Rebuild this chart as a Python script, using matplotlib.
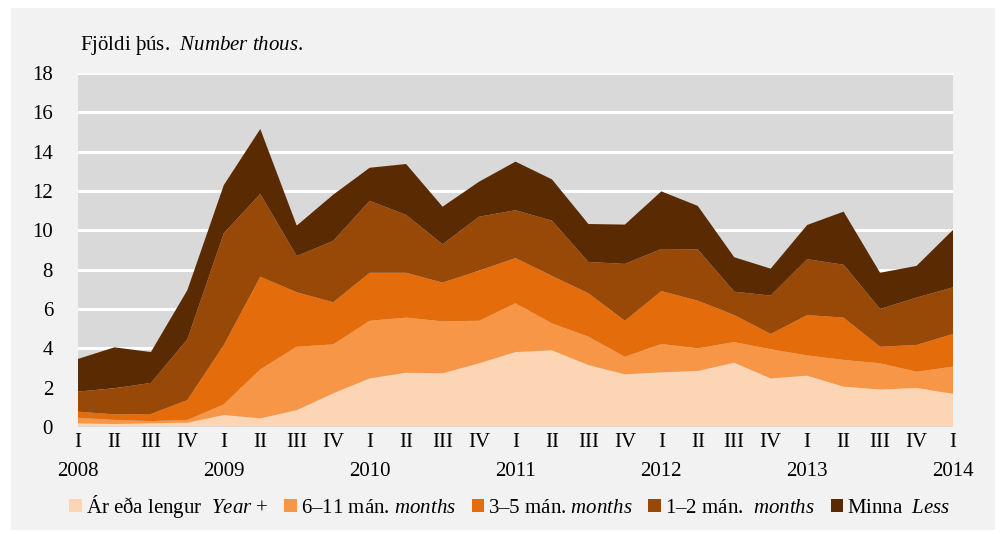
import numpy as np
import matplotlib
matplotlib.use('Agg')
import matplotlib.pyplot as plt
from matplotlib.patches import Rectangle, Patch

plt.rcParams['font.family'] = 'Liberation Serif'
plt.rcParams['mathtext.fontset'] = 'custom'
plt.rcParams['mathtext.rm'] = 'Liberation Serif'
plt.rcParams['mathtext.it'] = 'Liberation Serif:italic'

# Quarterly data, 2008 I - 2014 I (thousands)
quarters = ['I', 'II', 'III', 'IV'] * 6 + ['I']
years = ['2008', '2009', '2010', '2011', '2012', '2013', '2014']

year_plus = [0.19, 0.15, 0.19, 0.22, 0.61, 0.44, 0.86, 1.71, 2.47, 2.76, 2.73, 3.24, 3.81,
             3.90, 3.15, 2.68, 2.78, 2.85, 3.27, 2.47, 2.61, 2.05, 1.90, 1.98, 1.69]
m6_11 = [0.28, 0.21, 0.11, 0.14, 0.54, 2.49, 3.22, 2.49, 2.93, 2.80, 2.64, 2.16, 2.48,
         1.37, 1.44, 0.89, 1.44, 1.15, 1.05, 1.48, 1.03, 1.36, 1.34, 0.83, 1.38]
m3_5 = [0.31, 0.28, 0.36, 1.01, 3.02, 4.71, 2.77, 2.14, 2.44, 2.28, 1.97, 2.55, 2.30,
        2.41, 2.21, 1.83, 2.69, 2.42, 1.37, 0.78, 2.05, 2.15, 0.84, 1.36, 1.66]
m1_2 = [1.02, 1.33, 1.58, 3.09, 5.68, 4.21, 1.84, 3.12, 3.66, 2.94, 1.95, 2.74, 2.43,
        2.81, 1.59, 2.89, 2.14, 2.61, 1.19, 1.95, 2.84, 2.69, 1.92, 2.41, 2.37]
minna = [1.66, 2.08, 1.57, 2.50, 2.45, 3.30, 1.55, 2.35, 1.68, 2.59, 1.91, 1.78, 2.47,
         2.10, 1.93, 2.00, 2.93, 2.21, 1.75, 1.37, 1.74, 2.70, 1.84, 1.61, 2.92]

labels = [r'Ár eða lengur  $\mathit{Year}$ +',
          r'6–11 mán. $\mathit{months}$',
          r'3–5 mán. $\mathit{months}$',
          r'1–2 mán.  $\mathit{months}$',
          r'Minna  $\mathit{Less}$']
colors = ['#fcd5b5', '#f79646', '#e46c0a', '#984807', '#5a2b03']

fig = plt.figure(figsize=(10, 5.34), dpi=100, facecolor='white')
fig.patches.append(Rectangle((0.011, 0.008), 0.984, 0.977, transform=fig.transFigure,
                             facecolor='#f2f2f2', edgecolor='none', zorder=-1))
ax = fig.add_axes([0.078, 0.2004, 0.875, 0.663])
ax.set_facecolor('#d9d9d9')

x = np.arange(len(quarters))
ax.stackplot(x, year_plus, m6_11, m3_5, m1_2, minna, colors=colors, labels=labels,
             linewidth=0, zorder=3)

ax.set_xlim(0, len(quarters) - 1)
ax.set_ylim(0, 18)
ax.set_yticks(range(0, 19, 2))
ax.yaxis.grid(True, color='white', linewidth=2.2, zorder=1)
ax.set_axisbelow(True)
for s in ax.spines.values():
    s.set_visible(False)
ax.axhline(0, color='#d9d9d9', linewidth=1.5, zorder=4)

ax.set_xticks(x, quarters)
ax.tick_params(axis='both', length=0, labelsize=15)
ax.tick_params(axis='x', pad=4)
ax.tick_params(axis='y', pad=18)
for i, yr in enumerate(years):
    ax.text(i * 4, -0.098, yr, transform=ax.get_xaxis_transform(), ha='center', va='top',
            fontsize=15)

fig.text(0.080, 0.915, r'Fjöldi þús.  $\mathit{Number\ thous.}$', fontsize=15, va='center')

handles = [Patch(facecolor=c, edgecolor='none') for c in colors]
fig.legend(handles, labels, loc='center', bbox_to_anchor=(0.510, 0.052), ncol=5,
           frameon=False, fontsize=15, handlelength=0.6, handleheight=0.6,
           handletextpad=0.2, columnspacing=0.75)

fig.savefig('out.png', dpi=100, facecolor='white')
